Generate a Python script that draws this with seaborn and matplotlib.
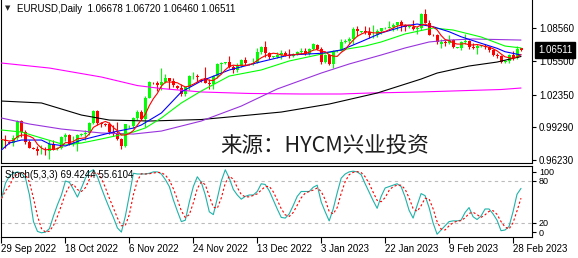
import numpy as np
import pandas as pd
import matplotlib
matplotlib.use("Agg")
import matplotlib.pyplot as plt
import seaborn as sns
from matplotlib.transforms import blended_transform_factory

# ---------------- data ----------------
opens = [0.9735, 0.9815, 0.9790, 0.9785, 0.9825, 0.9986, 0.9885, 0.9793, 0.9735, 0.9730,
         0.9703, 0.9707, 0.9703, 0.9777, 0.9730, 0.9735, 0.9840, 0.9856, 0.9775, 0.9778,
         0.9855, 0.9865, 0.9876, 0.9965, 1.0078, 0.9965, 0.9955, 0.9960, 0.9882, 0.9875,
         0.9820, 0.9750, 0.9940, 0.9945, 1.0020, 1.0075, 1.0010, 1.0205, 1.0345, 1.0345,
         1.0325, 1.0350, 1.0390, 1.0365, 1.0315, 1.0300, 1.0243, 1.0305, 1.0405, 1.0410,
         1.0370, 1.0390, 1.0340, 1.0330, 1.0405, 1.0525, 1.0535, 1.0540, 1.0490, 1.0465,
         1.0505, 1.0555, 1.0520, 1.0520, 1.0535, 1.0630, 1.0685, 1.0625, 1.0590, 1.0585,
         1.0605, 1.0625, 1.0605, 1.0595, 1.0620, 1.0635, 1.0640, 1.0612, 1.0665, 1.0700,
         1.0665, 1.0545, 1.0605, 1.0520, 1.0640, 1.0645, 1.0730, 1.0735, 1.0760, 1.0850,
         1.0825, 1.0830, 1.0820, 1.0790, 1.0795, 1.0830, 1.0855, 1.0860, 1.0870, 1.0885,
         1.0915, 1.0890, 1.0870, 1.0870, 1.0845, 1.0860, 1.0990, 1.0910, 1.0795, 1.0795,
         1.0710, 1.0728, 1.0715, 1.0745, 1.0675, 1.0675, 1.0725, 1.0740, 1.0685, 1.0675,
         1.0690, 1.0690, 1.0685, 1.0650, 1.0605, 1.0595, 1.0545, 1.0550, 1.0610, 1.0575,
         1.06678]
highs = [0.9838, 0.9854, 0.9800, 0.9853, 0.9999, 0.9999, 0.9907, 0.9810, 0.9745, 0.9755,
         0.9768, 0.9744, 0.9808, 0.9810, 0.9745, 0.9852, 0.9875, 0.9865, 0.9845, 0.9870,
         0.9875, 0.9906, 0.9977, 1.0094, 1.0090, 0.9980, 0.9965, 0.9980, 0.9954, 0.9977,
         0.9830, 0.9960, 0.9955, 1.0030, 1.0095, 1.0095, 1.0223, 1.0365, 1.0355, 1.0365,
         1.0480, 1.0430, 1.0395, 1.0395, 1.0325, 1.0330, 1.0310, 1.0415, 1.0450, 1.0425,
         1.0380, 1.0497, 1.0385, 1.0420, 1.0535, 1.0545, 1.0545, 1.0595, 1.0510, 1.0530,
         1.0565, 1.0590, 1.0530, 1.0575, 1.0675, 1.0695, 1.0735, 1.0635, 1.0600, 1.0635,
         1.0655, 1.0640, 1.0660, 1.0625, 1.0640, 1.0670, 1.0675, 1.0675, 1.0715, 1.0713,
         1.0685, 1.0620, 1.0615, 1.0650, 1.0655, 1.0760, 1.0760, 1.0775, 1.0865, 1.0875,
         1.0835, 1.0875, 1.0870, 1.0885, 1.0845, 1.0860, 1.0870, 1.0925, 1.0905, 1.0915,
         1.0930, 1.0895, 1.0880, 1.0930, 1.0875, 1.1000, 1.1033, 1.0935, 1.0800, 1.0800,
         1.0755, 1.0750, 1.0790, 1.0760, 1.0680, 1.0740, 1.0805, 1.0745, 1.0715, 1.0705,
         1.0700, 1.0705, 1.0695, 1.0665, 1.0625, 1.0610, 1.0555, 1.0620, 1.0645, 1.0690,
         1.06720]
lows = [0.9636, 0.9737, 0.9770, 0.9753, 0.9808, 0.9836, 0.9775, 0.9738, 0.9725, 0.9670,
        0.9683, 0.9668, 0.9632, 0.9713, 0.9720, 0.9725, 0.9805, 0.9760, 0.9757, 0.9705,
        0.9850, 0.9808, 0.9860, 0.9960, 0.9955, 0.9930, 0.9945, 0.9870, 0.9850, 0.9815,
        0.9730, 0.9745, 0.9925, 0.9925, 0.9995, 1.0000, 0.9935, 1.0200, 1.0330, 1.0270,
        1.0275, 1.0340, 1.0290, 1.0305, 1.0290, 1.0225, 1.0225, 1.0280, 1.0385, 1.0355,
        1.0350, 1.0340, 1.0290, 1.0290, 1.0390, 1.0430, 1.0525, 1.0480, 1.0440, 1.0445,
        1.0490, 1.0515, 1.0510, 1.0510, 1.0530, 1.0615, 1.0590, 1.0565, 1.0580, 1.0575,
        1.0570, 1.0595, 1.0575, 1.0585, 1.0610, 1.0620, 1.0610, 1.0605, 1.0650, 1.0655,
        1.0520, 1.0530, 1.0510, 1.0485, 1.0635, 1.0640, 1.0715, 1.0710, 1.0710, 1.0780,
        1.0815, 1.0805, 1.0765, 1.0765, 1.0770, 1.0800, 1.0850, 1.0855, 1.0835, 1.0840,
        1.0835, 1.0835, 1.0860, 1.0840, 1.0800, 1.0840, 1.0910, 1.0795, 1.0785, 1.0710,
        1.0670, 1.0695, 1.0710, 1.0670, 1.0670, 1.0655, 1.0705, 1.0660, 1.0660, 1.0615,
        1.0685, 1.0660, 1.0630, 1.0600, 1.0575, 1.0535, 1.0535, 1.0535, 1.0560, 1.0570,
        1.06460]
closes = [0.9815, 0.9802, 0.9785, 0.9825, 0.9986, 0.9885, 0.9793, 0.9740, 0.9730, 0.9703,
          0.9707, 0.9703, 0.9777, 0.9720, 0.9735, 0.9840, 0.9856, 0.9775, 0.9778, 0.9860,
          0.9865, 0.9876, 0.9965, 1.0078, 0.9965, 0.9962, 0.9950, 0.9882, 0.9875, 0.9820,
          0.9750, 0.9960, 0.9945, 1.0020, 1.0075, 1.0010, 1.0205, 1.0355, 1.0340, 1.0325,
          1.0350, 1.0390, 1.0365, 1.0325, 1.0300, 1.0243, 1.0305, 1.0405, 1.0410, 1.0400,
          1.0365, 1.0340, 1.0330, 1.0405, 1.0525, 1.0535, 1.0540, 1.0490, 1.0465, 1.0505,
          1.0555, 1.0530, 1.0520, 1.0535, 1.0630, 1.0685, 1.0625, 1.0585, 1.0590, 1.0605,
          1.0625, 1.0605, 1.0595, 1.0615, 1.0635, 1.0640, 1.0612, 1.0665, 1.0705, 1.0665,
          1.0545, 1.0605, 1.0520, 1.0645, 1.0650, 1.0730, 1.0735, 1.0760, 1.0850, 1.0830,
          1.0830, 1.0820, 1.0790, 1.0795, 1.0830, 1.0855, 1.0860, 1.0870, 1.0885, 1.0915,
          1.0890, 1.0870, 1.0870, 1.0845, 1.0860, 1.0990, 1.0910, 1.0795, 1.0790, 1.0725,
          1.0728, 1.0715, 1.0745, 1.0680, 1.0675, 1.0725, 1.0740, 1.0685, 1.0675, 1.0695,
          1.0690, 1.0685, 1.0650, 1.0605, 1.0595, 1.0545, 1.0550, 1.0610, 1.0575, 1.0665,
          1.06511]

tick_bars = [0, 16, 32, 48, 64, 80, 96, 112, 128]
tick_labels = ["29 Sep 2022", "18 Oct 2022", "6 Nov 2022", "24 Nov 2022", "13 Dec 2022",
               "3 Jan 2023", "22 Jan 2023", "9 Feb 2023", "28 Feb 2023"]
price_ticks = [1.08560, 1.05500, 1.02350, 0.99290, 0.96230]
last_price = 1.06511

blue_bars = [0, 2, 5, 10, 12, 16, 20, 25, 28, 33, 35, 40, 45, 50, 57, 65, 72, 80, 85, 90,
             95, 101, 104, 108, 112, 115, 120, 124, 126, 130]
blue_vals = [0.9717, 0.9782, 0.9810, 0.9810, 0.9773, 0.9754, 0.9810, 0.9857, 0.9885, 0.9922,
             0.9951, 1.0063, 1.0260, 1.0363, 1.0466, 1.0543, 1.0606, 1.0622, 1.0653, 1.0731,
             1.0812, 1.0878, 1.0896, 1.0871, 1.0824, 1.0777, 1.0716, 1.0669, 1.0637, 1.0606]
green_bars = [0, 5, 10, 16, 20, 25, 33, 36, 40, 45, 50, 57, 65, 72, 79, 85, 91, 95, 101,
              108, 113, 120, 126, 130]
green_vals = [0.9904, 0.9885, 0.9829, 0.9763, 0.9782, 0.9820, 0.9885, 0.9923, 1.0016, 1.0157,
              1.0269, 1.0409, 1.0466, 1.0550, 1.0606, 1.0653, 1.0690, 1.0728, 1.0803, 1.0859,
              1.0840, 1.0775, 1.0690, 1.0672]
purple_bars = [0, 7, 15, 25, 33, 40, 50, 60, 69, 80, 87, 95, 101, 107, 112, 118, 130]
purple_vals = [1.0016, 0.9960, 0.9913, 0.9876, 0.9866, 0.9894, 0.9988, 1.0128, 1.0288, 1.0437,
               1.0522, 1.0606, 1.0672, 1.0728, 1.0746, 1.0756, 1.0746]
black_bars = [0, 10, 20, 27, 37, 50, 57, 70, 82, 94, 105, 109, 117, 124, 130]
black_vals = [1.0175, 1.0157, 1.0044, 0.9997, 0.9988, 1.0002, 1.0026, 1.0072, 1.0147, 1.0250,
              1.0381, 1.0437, 1.0503, 1.0540, 1.0592]
magenta_bars = [0, 12, 25, 34, 40, 50, 62, 75, 85, 92, 105, 117, 125, 130]
magenta_vals = [1.0531, 1.0484, 1.0400, 1.0320, 1.0292, 1.0260, 1.0246, 1.0241, 1.0241, 1.0250,
                1.0260, 1.0274, 1.0283, 1.0297]

stoch_k = [55, 77, 87, 91, 93, 91, 84, 60, 22, 8,
           6, 7, 12, 30, 46, 60, 80, 78, 68, 57,
           70, 84, 93, 96, 86, 70, 55, 41, 28, 13,
           7, 30, 60, 91, 90, 90, 90, 91, 93, 93,
           90, 82, 72, 53, 37, 22, 24, 50, 72, 86,
           78, 60, 36, 32, 55, 80, 96, 84, 68, 60,
           54, 58, 60, 60, 65, 76, 75, 66, 53, 40,
           28, 27, 33, 45, 58, 65, 65, 65, 71, 74,
           50, 36, 23, 40, 63, 84, 90, 93, 94, 93,
           89, 76, 64, 52, 41, 58, 70, 72, 74, 76,
           72, 57, 38, 27, 45, 62, 59, 42, 20, 4,
           10, 16, 22, 23, 23, 24, 35, 42, 29, 25,
           30, 40, 40, 33, 24, 9, 10, 15, 36, 61,
           69.42]
stoch_levels = [80, 20]
stoch_tick_vals = [92.9, 80, 20, 6.5]
stoch_tick_labels = ["100", "80", "20", "0"]

# ---------------- figure ----------------
sns.set_theme(style="white")
plt.rcParams['font.family'] = ['Liberation Sans', 'DejaVu Sans']
plt.rcParams['axes.edgecolor'] = 'black'
plt.rcParams['axes.linewidth'] = 0.8

W, H = 578, 258
fig = plt.figure(figsize=(W / 100, H / 100), dpi=100)
fig.patch.set_facecolor('white')
ax = fig.add_axes([0.5 / W, (H - 163) / H, 531.5 / W, 163 / H])
ax2 = fig.add_axes([0.5 / W, (H - 237) / H, 531.5 / W, 71 / H])

df = pd.DataFrame({'bar': np.arange(len(closes)), 'open': opens, 'high': highs,
                   'low': lows, 'close': closes})
up = df['close'] >= df['open']
cols = np.where(up, '#00FF00', '#FF0000')

# candles
ax.vlines(df['bar'], df['low'], df['high'], colors=cols, lw=0.8, zorder=2)
body = (df['close'] - df['open']).abs().clip(lower=0.0006)
ax.bar(df['bar'], body, bottom=np.minimum(df['open'], df['close']), width=0.75,
       color=cols, linewidth=0, zorder=2)

# moving averages
red_ma = df['close'].rolling(5, min_periods=1).mean()
line_kw = dict(ax=ax, lw=0.8, legend=False, zorder=3)
sns.lineplot(x=magenta_bars, y=magenta_vals, color='#FF00FF', **line_kw)
sns.lineplot(x=black_bars, y=black_vals, color='#000000', **line_kw)
sns.lineplot(x=purple_bars, y=purple_vals, color='#9933DD', **line_kw)
sns.lineplot(x=green_bars, y=green_vals, color='#00FF00', **line_kw)
sns.lineplot(x=blue_bars, y=blue_vals, color='#0000FF', **line_kw)
sns.lineplot(x=df['bar'], y=red_ma, color='#FF0000', **line_kw)

ax.set_xlim(-0.25, 132.75)
ax.set_ylim(0.9595, 1.1121)
ax.set_xlabel('')
ax.set_ylabel('')
ax.set_xticks([])
ax.yaxis.tick_right()
ax.set_yticks(price_ticks)
ax.set_yticklabels([f"{p:.5f}" for p in price_ticks])
ax.tick_params(axis='y', right=True, left=False, labelright=True, labelleft=False,
               length=3, width=0.8, pad=2, labelsize=7, colors='black', direction='out')
ax.spines['top'].set_visible(False)

trans = blended_transform_factory(ax.transAxes, ax.transData)
ax.annotate(f"{last_price:.5f}", xy=(1, last_price), xycoords=trans,
            xytext=(6, 0), textcoords='offset pixels', ha='left', va='center',
            color='white', fontsize=7, annotation_clip=False,
            bbox=dict(boxstyle='square,pad=0.3', fc='black', ec='black'))

# stochastic
bars = np.arange(len(stoch_k))
stoch_d = pd.Series(stoch_k).rolling(3, min_periods=1).mean()
for lv in stoch_levels:
    ax2.axhline(lv, color='#BBBBBB', lw=0.8, ls=(0, (3, 3)), zorder=1)
sns.lineplot(x=bars, y=stoch_k, ax=ax2, color='#20B2AA', lw=0.8, legend=False, zorder=3)
sns.lineplot(x=bars, y=stoch_d, ax=ax2, color='#FF0000', lw=0.8, legend=False, zorder=3,
             linestyle=(0, (2, 2)))
ax2.set_xlim(-0.25, 132.75)
ax2.set_ylim(0, 101.4)
ax2.set_xlabel('')
ax2.set_ylabel('')
ax2.yaxis.tick_right()
ax2.set_yticks(stoch_tick_vals)
ax2.set_yticklabels(stoch_tick_labels)
ax2.tick_params(axis='y', right=True, left=False, labelright=True, labelleft=False,
                length=3, width=0.8, pad=2, labelsize=6.5, colors='black', direction='out')
ax2.set_xticks(tick_bars)
ax2.set_xticklabels(tick_labels)
for lab in ax2.get_xticklabels():
    lab.set_ha('left')
ax2.tick_params(axis='x', bottom=True, length=4, width=0.8, pad=1, labelsize=7,
                colors='black', direction='out')

# texts
fig.text(8 / W, 1 - 8.5 / H, "▼", fontsize=5, ha='center', va='center',
         family=['DejaVu Sans'])
fig.text(17 / W, 1 - 8.5 / H, "EURUSD,Daily  1.06678 1.06720 1.06460 1.06511",
         fontsize=7, ha='left', va='center', color='black')
fig.text(5 / W, 1 - 175 / H, "Stoch(5,3,3) 69.4244 55.6104", fontsize=7,
         ha='left', va='center', color='black', zorder=10)
fig.text(325 / W, 1 - 146.5 / H, "来源：HYCM兴业投资", fontsize=15.5,
         ha='center', va='center', color='#1e1e1e',
         family=['Noto Sans CJK SC', 'DejaVu Sans'], zorder=10)

fig.savefig("out.png", dpi=100)
